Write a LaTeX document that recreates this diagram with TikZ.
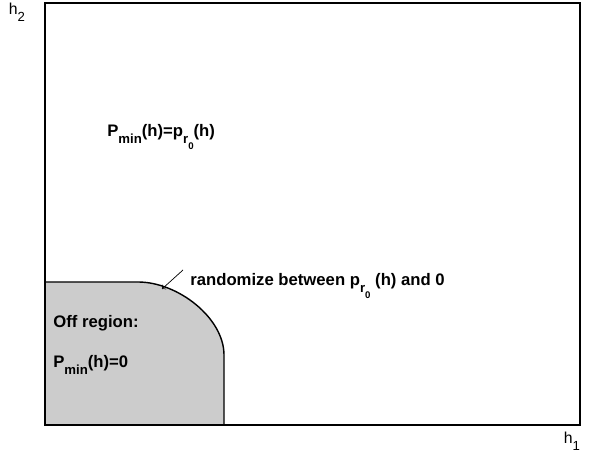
\documentclass[tikz,border=0pt]{standalone}
\usepackage{fontspec}
\setmainfont{Liberation Sans}
\usepackage{tikz}
\newcommand{\lowsub}[1]{\raisebox{-0.8ex}{\fontsize{7.5}{8}\selectfont #1}}
\newcommand{\prz}{p\lowsub{r\raisebox{-0.9ex}{\fontsize{5.5}{6}\selectfont 0}}}

\begin{document}
\begin{tikzpicture}[x=0.02cm, y=-0.02cm,
    lbl/.style={font=\fontsize{9.5}{11}\selectfont\bfseries, inner sep=0pt},
    axlbl/.style={font=\fontsize{9}{10}\selectfont, inner sep=0pt}]
        \useasboundingbox (0,0) rectangle (589,455);
        % Off region
        \coordinate (c1) at (45,282);
        \coordinate (c2) at (138,282);
        \coordinate (c3) at (224,355);
        \coordinate (c4) at (224,425);
        \fill[black!20] (45,425) -- (c1) -- (c2) .. controls (178,282) and (224,318) .. (c3) -- (c4) -- cycle;
        \draw[thick] (c1) -- (c2) .. controls (178,282) and (224,318) .. (c3) -- (c4);
        
        % Axes box
        \draw[thick] (45,3) rectangle (580,425);
        \node[axlbl] (h2) at (17,12) {h\lowsub{2}};
        \node[axlbl] (h1) at (572,441) {h\lowsub{1}};
        
        % Labels
        \node[lbl, anchor=west] (onlbl) at (107,137) {P\lowsub{min}(h)=\prz(h)};
        \node[lbl, anchor=west] (offlbl) at (53,323) {Off region:};
        \node[lbl, anchor=west] (zerolbl) at (53,365) {P\lowsub{min}(h)=0};
        \node[lbl, anchor=west] (randlbl) at (190,286) {randomize between \prz\ (h) and 0};
        
        % Pointer to boundary
        \coordinate (tip) at (162,289);
        \coordinate (tail) at (183,270);
        \draw[->, thin] (tail) -- (tip);
    \end{tikzpicture}
\end{document}
